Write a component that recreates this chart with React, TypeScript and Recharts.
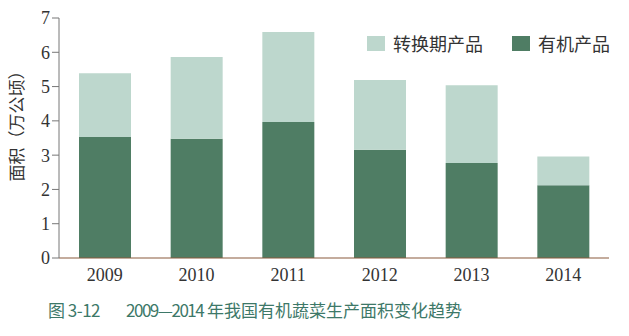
import { BarChart, Bar, XAxis, YAxis, Legend } from "recharts";

const years = ["2009", "2010", "2011", "2012", "2013", "2014"];
const organic = [3.53, 3.48, 3.97, 3.16, 2.77, 2.12];
const transition = [1.86, 2.38, 2.62, 2.03, 2.27, 0.84];
const yTicks = [0, 1, 2, 3, 4, 5, 6, 7];

const DARK = "#4f7d64";
const LIGHT = "#bdd7cd";
const SERIF = "'Liberation Serif', 'DejaVu Serif', serif";
const CJK = "'Noto Sans CJK SC', sans-serif";

const data = years.map((y, i) => ({
  year: y,
  organic: organic[i],
  transition: transition[i],
}));

function LegendBox() {
  const items = [
    { name: "转换期产品", color: LIGHT },
    { name: "有机产品", color: DARK },
  ];
  return (
    <div
      style={{
        display: "flex",
        alignItems: "center",
        fontFamily: CJK,
        whiteSpace: "nowrap",
      }}
    >
      {items.map((it) => (
        <div
          key={it.name}
          style={{
            display: "flex",
            alignItems: "center",
            marginRight: 29,
            flexShrink: 0,
          }}
        >
          <span
            style={{
              width: 18,
              height: 15,
              background: it.color,
              display: "inline-block",
              marginRight: 8,
            }}
          />
          <span style={{ fontSize: 18, color: "#333" }}>{it.name}</span>
        </div>
      ))}
    </div>
  );
}

export default function App() {
  return (
    <div
      style={{
        position: "absolute",
        left: 0,
        top: 0,
        width: 629,
        height: 336,
        background: "#fff",
      }}
    >
      <BarChart
        width={629}
        height={290}
        data={data}
        margin={{ top: 18, right: 20, left: 0, bottom: 2 }}
        barSize={52}
      >
        <XAxis
          dataKey="year"
          tickLine={false}
          axisLine={{ stroke: "#8a5a3c", strokeWidth: 1.2 }}
          tick={{ fontSize: 18, fill: "#333", fontFamily: SERIF, dy: 2 }}
          height={30}
        />
        <YAxis
          domain={[0, 7]}
          ticks={yTicks}
          width={59}
          tickSize={7}
          axisLine={{ stroke: "#777" }}
          tickLine={{ stroke: "#777" }}
          tick={{ fontSize: 18, fill: "#333", fontFamily: SERIF }}
          label={{
            content: () => (
              <text
                x={15}
                y={122}
                transform="rotate(-90 15 122)"
                textAnchor="middle"
                dominantBaseline="central"
                fontSize={17}
                fill="#333"
                fontFamily={CJK}
              >
                面积（万公顷）
              </text>
            ),
          }}
        />
        <Legend
          layout="horizontal"
          verticalAlign="middle"
          content={() => <LegendBox />}
          wrapperStyle={{ top: 30, left: 367, width: 262 }}
        />
        <Bar
          dataKey="organic"
          stackId="a"
          fill={DARK}
          isAnimationActive={false}
        />
        <Bar
          dataKey="transition"
          stackId="a"
          fill={LIGHT}
          isAnimationActive={false}
        />
      </BarChart>
      <div
        style={{
          position: "absolute",
          left: 48,
          top: 297,
          fontFamily: CJK,
          fontSize: 17,
          color: "#3d7868",
          whiteSpace: "pre",
        }}
      >
        <span style={{ letterSpacing: -0.5 }}>图 3-12</span>
        <span style={{ marginLeft: 26, letterSpacing: -1.5 }}>2009—2014</span>
        <span> 年我国有机蔬菜生产面积变化趋势</span>
      </div>
    </div>
  );
}
